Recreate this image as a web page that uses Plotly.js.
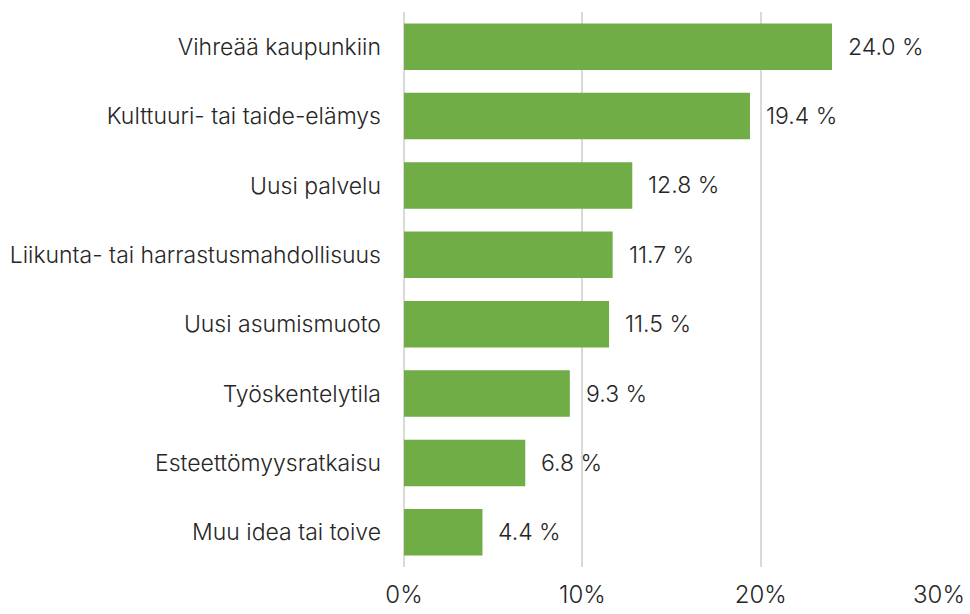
<!DOCTYPE html>
<html>
<head>
<meta charset="utf-8">
<script src="https://cdn.plot.ly/plotly-3.0.1.min.js"></script>
<style>html,body{margin:0;padding:0;background:#fff;}#chart{width:970px;height:614px;}</style>
</head>
<body>
<div id="chart"></div>
<script>
const categories = [
  "Vihreää kaupunkiin",
  "Kulttuuri- tai taide-elämys",
  "Uusi palvelu",
  "Liikunta- tai harrastusmahdollisuus",
  "Uusi asumismuoto",
  "Työskentelytila",
  "Esteettömyysratkaisu",
  "Muu idea tai toive"
];
const values = [24.0, 19.4, 12.8, 11.7, 11.5, 9.3, 6.8, 4.4];
const tickVals = [0, 10, 20, 30];
const tickLabels = ["0%", "10%", "20%", "30%"];

const font = {family: "Inter, 'Open Sans', sans-serif", size: 23, color: "#262626", weight: 300};
const tickFont = {family: "Inter, 'Open Sans', sans-serif", size: 24, color: "#262626", weight: 300};

const trace = {
  type: "bar",
  orientation: "h",
  x: values,
  y: categories,
  marker: {color: "#70AD47"},
  hoverinfo: "none"
};

const annotations = values.map((v, i) => ({
  x: v, y: categories[i], xref: "x", yref: "y",
  text: v.toFixed(1) + " %",
  showarrow: false, xanchor: "left", xshift: 14, yshift: 0,
  font: font
}));

const layout = {
  width: 970, height: 614,
  margin: {l: 404, r: 31, t: 12, b: 47, pad: 0},
  paper_bgcolor: "#fff", plot_bgcolor: "#fff",
  bargap: 0.33,
  showlegend: false,
  font: font,
  xaxis: {
    range: [0, 30],
    tickvals: tickVals, ticktext: tickLabels,
    showgrid: true, gridcolor: "#d9d9d9", gridwidth: 2,
    zeroline: true, zerolinecolor: "#d9d9d9", zerolinewidth: 2,
    showline: false, ticks: "", ticklabelstandoff: 11,
    tickfont: tickFont, fixedrange: true
  },
  yaxis: {
    autorange: "reversed",
    showgrid: false, zeroline: false, showline: false,
    ticks: "", ticklabelstandoff: 22,
    tickfont: font, fixedrange: true
  },
  annotations: annotations
};

Plotly.newPlot("chart", [trace], layout, {staticPlot: true, displayModeBar: false});
</script>
</body>
</html>
